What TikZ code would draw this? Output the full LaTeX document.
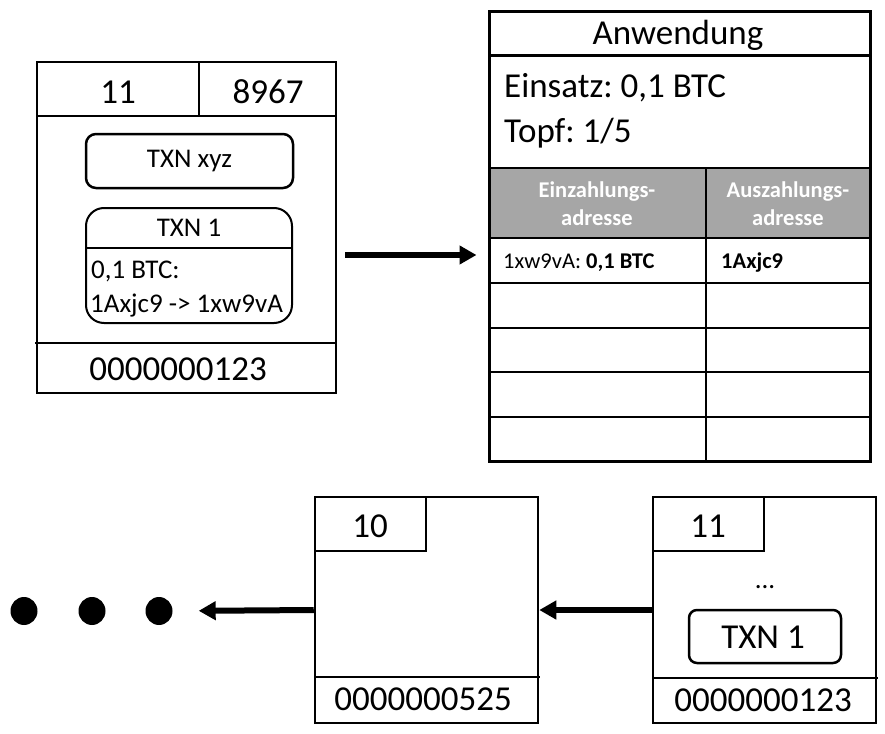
\documentclass[tikz,border=0pt]{standalone}
\usepackage{fontspec}
\setmainfont{Carlito}
\usetikzlibrary{arrows.meta,shapes.geometric}
\newcommand\fbig{\fontsize{35}{42}\selectfont}
\newcommand\fmid{\fontsize{27}{33}\selectfont}
\newcommand\fsml{\fontsize{22.5}{28}\selectfont}
\definecolor{hdrgray}{HTML}{A6A6A6}
\tikzset{
  blockbox/.style={draw, line width=2.5pt, inner sep=0pt},
  txnbox/.style={draw, line width=2.5pt, inner sep=0pt},
  txt/.style={inner sep=0pt, anchor=base},
  ltxt/.style={inner sep=0pt, anchor=base west},
  thinline/.style={line width=1.2pt},
  midline/.style={line width=2pt},
  thickline/.style={line width=2.5pt},
  bigarrow/.style={line width=6pt, -{Triangle[length=17pt,width=18pt]}},
  dotnode/.style={ellipse, fill=black, inner sep=0pt, minimum width=27pt, minimum height=28pt}
}
\frenchspacing
\begin{document}
\begin{tikzpicture}[x=1pt,y=-1pt]
\useasboundingbox (0,0) rectangle (885,733);

% ---------- top-left block ----------
\node[blockbox, minimum width=299pt, minimum height=331pt] (blkA) at (186.5,227.5) {};
\draw[thickline] (37,116) -- (336,116);
\draw[thickline] (199,62) -- (199,116);
\draw[thinline] (35,343) -- (336,343);
\node[txt] (blkAnum) at (118,104) {\fbig 11};
\node[txt] (blkAnonce) at (268,104) {\fbig 8967};
\node[txt] (blkAhash) at (178,380) {\fbig 0000000123};
\node[txnbox, rounded corners=10pt, minimum width=207pt, minimum height=54pt] (txnxyz) at (189.5,161) {\fmid TXN xyz};
\node[draw, line width=2pt, rounded corners=18pt, inner sep=0pt, minimum width=206pt, minimum height=115pt] (txnA) at (189,265.5) {};
\draw[line width=1.5pt] (86,248) -- (292,248);
\node[txt] (txnAtitle) at (189,236) {\fmid TXN 1};
\node[ltxt] (txnAl1) at (91,278) {\fmid 0,1 BTC:};
\node[ltxt] (txnAl2) at (90,312) {\fmid 1Axjc9 -> 1xw9vA};

% ---------- table ----------
\fill[hdrgray] (489,168) rectangle (870,238);
\node[draw, line width=3pt, inner sep=0pt, minimum width=381pt, minimum height=449pt] (tab) at (679.5,236.5) {};
\draw[line width=3pt] (489,56) -- (870,56);
\draw[thickline] (489,168) -- (870,168);
\draw[thickline] (489,238) -- (870,238);
\foreach \yy in {283,328,372,417} \draw[midline] (489,\yy) -- (870,\yy);
\draw[midline] (706,168) -- (706,461);
\node[txt] (tabtitle) at (678,45) {\fbig Anwendung};
\node[ltxt] (einsatz) at (504,98) {\fbig Einsatz: 0,1 BTC};
\node[ltxt] (topf) at (504,142) {\fbig Topf: 1/5};
\node[txt, text=white, font=\bfseries] (h1a) at (597,197) {\fsml Einzahlungs-};
\node[txt, text=white, font=\bfseries] (h1b) at (597,225) {\fsml adresse};
\node[txt, text=white, font=\bfseries] (h2a) at (788,197) {\fsml Auszahlungs-};
\node[txt, text=white, font=\bfseries] (h2b) at (788,225) {\fsml adresse};
\node[ltxt] (r1c1) at (503,268) {\fsml 1xw9vA: \textbf{0,1 BTC}};
\node[ltxt] (r1c2) at (721,268) {\fsml\bfseries 1Axjc9};

% ---------- top arrow ----------
\coordinate (ay) at (0,255);
\draw[bigarrow, shorten <=8pt, shorten >=11pt] (blkA.east |- ay) -- (tab.west |- ay);

% ---------- bottom blocks ----------
\node[blockbox, minimum width=223pt, minimum height=226pt] (blk10) at (426.5,610) {};
\draw[thickline] (426,497) -- (426,551) -- (315,551);
\draw[thinline] (315,677) -- (540,677);
\node[txt] (blk10num) at (370,537) {\fbig 10};
\node[txt] (blk10hash) at (423,710) {\fbig 0000000525};

\node[blockbox, minimum width=223pt, minimum height=226pt] (blk11) at (764.5,610) {};
\draw[thickline] (764,497) -- (764,551) -- (653,551);
\draw[thinline] (653,678) -- (878,678);
\node[txt] (blk11num) at (708,537) {\fbig 11};
\node[txt] (blk11dots) at (765,588) {\fmid ...};
\node[txnbox, rounded corners=8pt, minimum width=152pt, minimum height=53pt] (txnB) at (765,636.5) {};
\node[txt] (txnBtxt) at (763,648) {\fbig TXN 1};
\node[txt] (blk11hash) at (763,711) {\fbig 0000000123};

% ---------- dots ----------
\node[dotnode] (d1) at (24,611) {};
\node[dotnode] (d2) at (92,611) {};
\node[dotnode] (d3) at (159,611) {};

% ---------- bottom arrows ----------
\draw[bigarrow] (blk11.west) -- (blk10.east);
\draw[bigarrow, shorten >=26pt] (blk10.west) -- (d3.east);
\end{tikzpicture}
\end{document}
